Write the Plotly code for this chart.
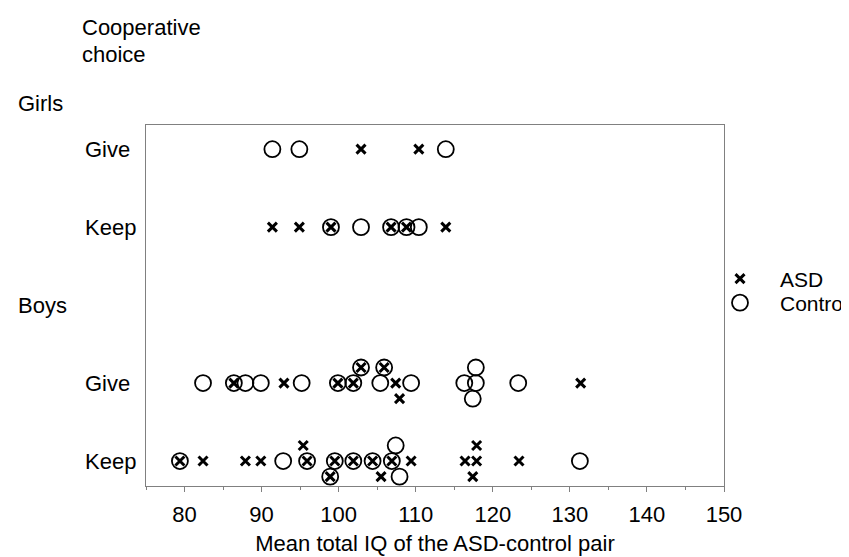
import plotly.graph_objects as go

# ---- data (mean total IQ of the ASD-control pair) ----
row_labels = ["Give", "Keep", "Give", "Keep"]
group_labels = ["Girls", "Boys"]

# Girls
girls_give_asd = [102.9, 110.4]
girls_give_ctrl = [91.4, 94.9, 113.9]
girls_keep_asd = [91.4, 94.9, 99.0, 106.8, 108.8, 113.9]
girls_keep_ctrl = [99.0, 102.9, 106.8, 108.8, 110.4]

# Boys - Give (main row, stacked above, stacked below)
boys_give_asd = [86.4, 92.9, 99.9, 101.9, 107.4, 131.4]
boys_give_asd_up = [102.9, 105.9]
boys_give_asd_down = [107.9]
boys_give_ctrl = [82.4, 86.4, 87.9, 89.9, 95.2, 99.9, 101.9, 105.4, 109.4, 116.3, 117.8, 123.3]
boys_give_ctrl_up = [102.9, 105.9, 117.8]
boys_give_ctrl_down = [117.4]

# Boys - Keep
boys_keep_asd = [79.4, 82.4, 87.9, 89.9, 95.9, 99.5, 101.9, 104.4, 106.9, 109.4, 116.4, 117.9, 123.4]
boys_keep_asd_up = [95.4, 117.9]
boys_keep_asd_down = [98.9, 105.5, 117.4]
boys_keep_ctrl = [79.4, 92.8, 95.9, 99.5, 101.9, 104.4, 106.9, 131.3]
boys_keep_ctrl_up = [107.4]
boys_keep_ctrl_down = [98.9, 107.9]

x_ticks = [80, 90, 100, 110, 120, 130, 140, 150]

# ---- layout constants ----
ROW = {"girls_give": 5, "girls_keep": 4, "boys": 3, "boys_give": 2, "boys_keep": 1}
STACK = 0.2
FONT = "Liberation Sans, Arial, sans-serif"
FS = 22


def build(groups):
    xs, ys = [], []
    for vals, base, lvl in groups:
        xs += list(vals)
        ys += [base + lvl * STACK] * len(vals)
    return xs, ys


asd_x, asd_y = build([
    (girls_give_asd, ROW["girls_give"], 0),
    (girls_keep_asd, ROW["girls_keep"], 0),
    (boys_give_asd, ROW["boys_give"], 0),
    (boys_give_asd_up, ROW["boys_give"], 1),
    (boys_give_asd_down, ROW["boys_give"], -1),
    (boys_keep_asd, ROW["boys_keep"], 0),
    (boys_keep_asd_up, ROW["boys_keep"], 1),
    (boys_keep_asd_down, ROW["boys_keep"], -1),
])
ctrl_x, ctrl_y = build([
    (girls_give_ctrl, ROW["girls_give"], 0),
    (girls_keep_ctrl, ROW["girls_keep"], 0),
    (boys_give_ctrl, ROW["boys_give"], 0),
    (boys_give_ctrl_up, ROW["boys_give"], 1),
    (boys_give_ctrl_down, ROW["boys_give"], -1),
    (boys_keep_ctrl, ROW["boys_keep"], 0),
    (boys_keep_ctrl_up, ROW["boys_keep"], 1),
    (boys_keep_ctrl_down, ROW["boys_keep"], -1),
])

fig = go.Figure()
fig.add_trace(go.Scatter(
    x=ctrl_x, y=ctrl_y, mode="markers", name="Control", legend="legend2", showlegend=True,
    marker=dict(symbol="circle-open", size=16, color="black", line=dict(width=1.8, color="black")),
    cliponaxis=False,
))
fig.add_trace(go.Scatter(
    x=asd_x, y=asd_y, mode="markers", name="ASD", legend="legend", showlegend=True,
    marker=dict(symbol="x-thin-open", size=9, color="black", line=dict(width=3, color="black")),
    cliponaxis=False,
))

L, R, T, B = 138, 133, 117, 79
W, H = 849, 557
PW, PH = W - L - R, H - T - B

def px_x(p):
    return (p - L) / PW

def px_y(p):
    return (H - B - p) / PH

annotations = []
for lab, key in zip(row_labels, ["girls_give", "girls_keep", "boys_give", "boys_keep"]):
    annotations.append(dict(text=lab, xref="paper", yref="y", x=px_x(75), y=ROW[key],
                            xanchor="left", yanchor="middle", showarrow=False,
                            font=dict(size=FS, color="black", family=FONT)))
annotations.append(dict(text=group_labels[0], xref="paper", yref="paper", x=px_x(8), y=px_y(96),
                        xanchor="left", yanchor="middle", showarrow=False,
                        font=dict(size=FS, color="black", family=FONT)))
annotations.append(dict(text=group_labels[1], xref="paper", yref="y", x=px_x(8), y=ROW["boys"],
                        xanchor="left", yanchor="middle", showarrow=False,
                        font=dict(size=FS, color="black", family=FONT)))
annotations.append(dict(text="Cooperative", xref="paper", yref="paper", x=px_x(72), y=px_y(20),
                        xanchor="left", yanchor="middle", showarrow=False,
                        font=dict(size=FS, color="black", family=FONT)))
annotations.append(dict(text="choice", xref="paper", yref="paper", x=px_x(72), y=px_y(46),
                        xanchor="left", yanchor="middle", showarrow=False,
                        font=dict(size=FS, color="black", family=FONT)))

LEG_FS = 21
fig.update_layout(
    width=W, height=H,
    showlegend=True,
    margin=dict(l=L, r=R, t=T, b=B, autoexpand=False),
    paper_bgcolor="white", plot_bgcolor="white",
    font=dict(family=FONT, size=FS, color="black"),
    annotations=annotations,
    legend=dict(x=px_x(692), y=px_y(271), xanchor="left", yanchor="middle",
                itemwidth=70, bgcolor="rgba(0,0,0,0)", borderwidth=0,
                font=dict(size=LEG_FS, color="black", family=FONT)),
    legend2=dict(x=px_x(692), y=px_y(295), xanchor="left", yanchor="middle",
                 itemwidth=70, bgcolor="rgba(0,0,0,0)", borderwidth=0,
                 font=dict(size=LEG_FS, color="black", family=FONT)),
    xaxis=dict(
        range=[75, 150], tickmode="array", tickvals=x_ticks, ticktext=[str(v) for v in x_ticks],
        ticks="outside", ticklen=5, tickcolor="#808080", tickwidth=1,
        minor=dict(ticks="outside", ticklen=3, dtick=5, tick0=75, tickcolor="#808080"),
        showline=True, linecolor="#808080", linewidth=1, mirror=True,
        showgrid=False, zeroline=False,
        tickfont=dict(size=FS, color="black"),
        ticklabelstandoff=4,
        title=dict(text="Mean total IQ of the ASD-control pair", font=dict(size=FS, color="black"), standoff=9),
    ),
    yaxis=dict(
        range=[0.68, 5.31], showticklabels=False, ticks="",
        showline=True, linecolor="#808080", linewidth=1, mirror=True,
        showgrid=False, zeroline=False,
    ),
)

fig.write_html("out.html")
